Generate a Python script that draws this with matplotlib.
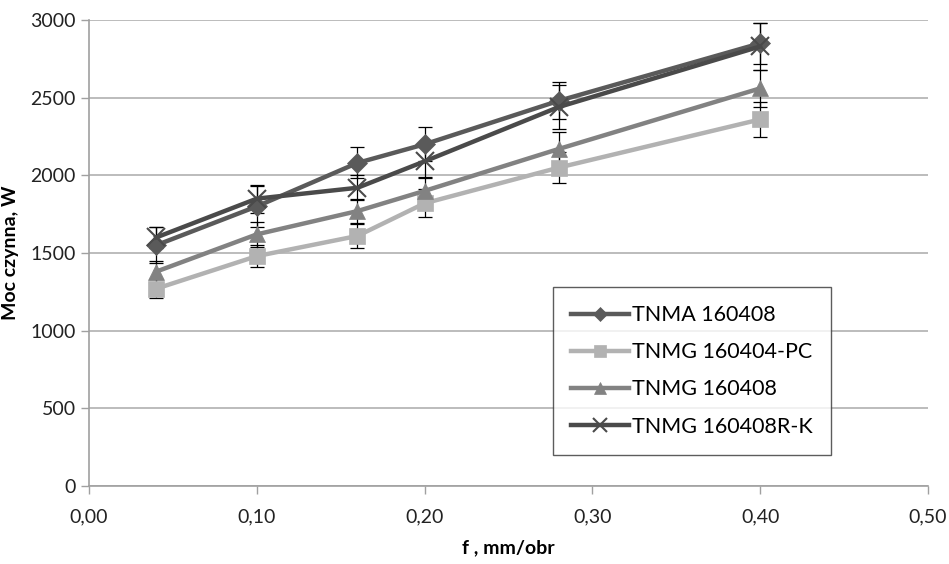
import numpy as np
import matplotlib
matplotlib.use('Agg')
import matplotlib.pyplot as plt

plt.rcParams['font.family'] = ['Lato', 'DejaVu Sans']

f = [0.04, 0.10, 0.16, 0.20, 0.28, 0.40]

tnma = [1550, 1800, 2080, 2200, 2480, 2850]
tnma_err = [115, 130, 100, 110, 120, 130]

tnmg_pc = [1270, 1480, 1610, 1820, 2050, 2360]
tnmg_pc_err = [60, 70, 75, 90, 100, 115]

tnmg = [1380, 1620, 1770, 1900, 2170, 2560]
tnmg_err = [70, 80, 80, 90, 110, 120]

tnmg_rk = [1600, 1850, 1920, 2090, 2440, 2830]
tnmg_rk_err = [70, 90, 80, 110, 140, 150]

labels = ['TNMA 160408', 'TNMG 160404-PC', 'TNMG 160408', 'TNMG 160408R-K']

fig = plt.figure(figsize=(9.49, 5.64), dpi=100)
ax = fig.add_axes([0.0938, 0.1383, 0.884, 0.8262])

series = [
    (tnma, tnma_err, '#5a5a5a', 'D', 10),
    (tnmg_pc, tnmg_pc_err, '#b2b2b2', 's', 11),
    (tnmg, tnmg_err, '#828282', '^', 12),
    (tnmg_rk, tnmg_rk_err, '#4a4a4a', 'x', 13),
]

for (vals, err, col, mk, ms), lab in zip(series, labels):
    ax.errorbar(f, vals, yerr=err, fmt='none', ecolor='black', elinewidth=0.9,
                capsize=5, capthick=0.9, zorder=2)
    ax.plot(f, vals, color=col, lw=3.2, marker=mk, markersize=ms,
            markeredgewidth=1.5 if mk == 'x' else 0.5, markeredgecolor=col,
            label=lab, zorder=3)

ax.set_xlim(0, 0.5)
ax.set_ylim(0, 3000)
ax.set_xticks(np.arange(0, 0.51, 0.1))
ax.set_xticklabels(['0,00', '0,10', '0,20', '0,30', '0,40', '0,50'])
ax.set_yticks(np.arange(0, 3001, 500))
ax.yaxis.grid(True, color='#b0b0b0', lw=1.2)
ax.set_axisbelow(True)
for s in ['top', 'right']:
    ax.spines[s].set_visible(False)
for s in ['left', 'bottom']:
    ax.spines[s].set_color('#a0a0a0')
    ax.spines[s].set_linewidth(1.2)
ax.tick_params(axis='both', colors='#a0a0a0', labelcolor='#222222',
               labelsize=14, length=6, width=1.0)
ax.tick_params(axis='x', pad=10)

ax.set_xlabel('f , mm/obr', fontsize=14, fontweight='bold', labelpad=10)
ax.set_ylabel('Moc czynna, W', fontsize=14, fontweight='bold', labelpad=8)

leg = ax.legend(loc='lower left', bbox_to_anchor=(0.553, 0.0665), fontsize=15.5,
                frameon=True, fancybox=False, borderpad=0.85, labelspacing=0.8,
                handlelength=2.7, handletextpad=0.1, markerscale=0.75,
                borderaxespad=0)
leg.get_frame().set_edgecolor('#333333')
leg.get_frame().set_linewidth(1.0)

fig.savefig('out.png', dpi=100)
